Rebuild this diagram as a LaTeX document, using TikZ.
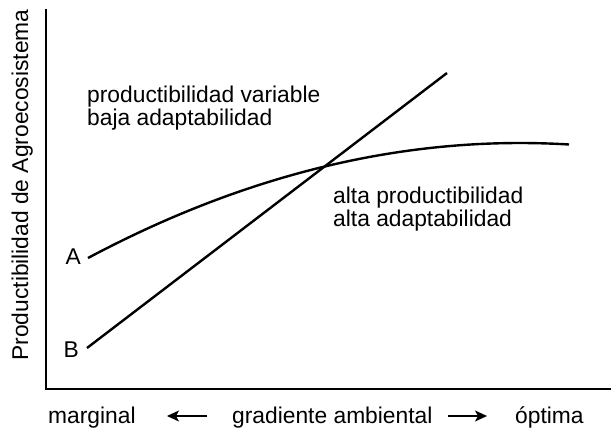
\documentclass[tikz,border=0pt]{standalone}
\usepackage{fontspec}
\setmainfont{Liberation Sans}
\usetikzlibrary{arrows.meta}
\tikzset{
  lbl/.style={inner sep=0pt,anchor=base west,align=left,font=\fontsize{22.8}{23}\selectfont},
  curva/.style={line width=2.4pt},
  eje/.style={line width=2.6pt},
  flecha/.style={line width=1.2pt,-{Stealth[length=12pt,width=11pt,inset=3pt]}}
}
\begin{document}
\begin{tikzpicture}[x=1pt,y=1pt]
\useasboundingbox (0,0) rectangle (612,431);

% ejes
\draw[eje] (46,422) -- (46,42) -- (611,42);
\node[lbl,rotate=90,anchor=base] (ylab) at (28,246) {Productibilidad de Agroecosistema};

% curvas A y B
\coordinate (a0) at (88,173);
\coordinate (a1) at (569,286.5);
\coordinate (b0) at (87,83);
\coordinate (b1) at (447,358);
\draw[curva] (a0) .. controls (248.5,258.4) and (408.8,296.2) .. (a1);
\draw[curva] (b0) -- (b1);
\node[lbl,anchor=base east] (A) at (81,166) {A};
\node[lbl,anchor=base east] (B) at (79,74) {B};

\node[lbl] (baja) at (87,305) {productibilidad variable\\baja adaptabilidad};
\node[lbl] (alta) at (333,204) {alta productibilidad\\alta adaptabilidad};

% gradiente
\node[lbl] (marg) at (48,8) {marginal};
\node[lbl] (grad) at (232,8) {gradiente ambiental};
\node[lbl] (opt) at (515,8) {óptima};
\coordinate (izq0) at (207,15);
\coordinate (izq1) at (167,15);
\coordinate (der0) at (448,15);
\coordinate (der1) at (487,15);
\draw[flecha] (izq0) -- (izq1);
\draw[flecha] (der0) -- (der1);
\end{tikzpicture}
\end{document}
